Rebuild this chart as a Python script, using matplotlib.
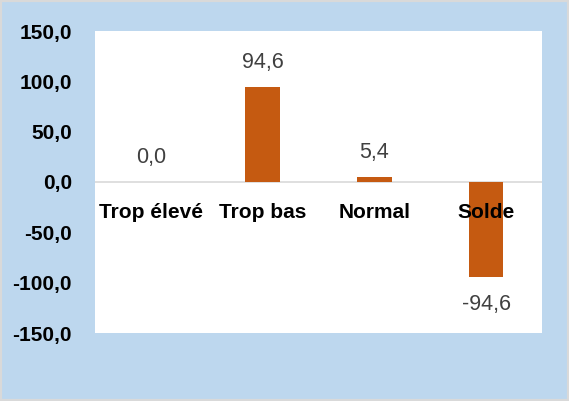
import matplotlib
matplotlib.use("Agg")
import matplotlib.pyplot as plt
from matplotlib.patches import Rectangle

categories = ["Trop élevé", "Trop bas", "Normal", "Solde"]
values = [0.0, 94.6, 5.4, -94.6]
yticks = [-150, -100, -50, 0, 50, 100, 150]

plt.rcParams['font.family'] = ['Liberation Sans', 'DejaVu Sans']

fig = plt.figure(figsize=(5.69, 4.01), dpi=100)
fig.patch.set_facecolor('#BDD7EE')
fig.patches.append(Rectangle((0, 0), 1, 1, transform=fig.transFigure, fill=False,
                             edgecolor='#D9D9D9', linewidth=3))
W, H = 569, 401
ax = fig.add_axes([95 / W, (H - 333) / H, (542 - 95) / W, (333 - 31) / H])
ax.set_facecolor('white')
x = list(range(len(categories)))
ax.bar(x, values, width=0.31, color='#C55A11', zorder=2)
ax.set_xlim(-0.5, len(categories) - 0.5)
ax.set_ylim(-150, 150)
ax.set_yticks(yticks)
ax.set_yticklabels([f"{v:.1f}".replace('.', ',') for v in yticks],
                   fontsize=15, fontweight='bold')
ax.tick_params(axis='y', length=0, pad=16.5)
ax.set_xticks([])
for s in ax.spines.values():
    s.set_visible(False)
ax.axhline(0, color='#D9D9D9', linewidth=1.2, zorder=1)
for xi, v, c in zip(x, values, categories):
    lbl = f"{v:.1f}".replace('.', ',')
    if v >= 0:
        ax.annotate(lbl, (xi, v), xytext=(0, 10), textcoords='offset points',
                    ha='center', va='bottom', fontsize=15.5, color='#404040')
    else:
        ax.annotate(lbl, (xi, v), xytext=(0, -12), textcoords='offset points',
                    ha='center', va='top', fontsize=15.5, color='#404040')
    ax.annotate(c, (xi, 0), xytext=(0, -15), textcoords='offset points',
                ha='center', va='top', fontsize=15, fontweight='bold', color='black', zorder=3)
fig.savefig('out.png', dpi=100, facecolor=fig.get_facecolor())
